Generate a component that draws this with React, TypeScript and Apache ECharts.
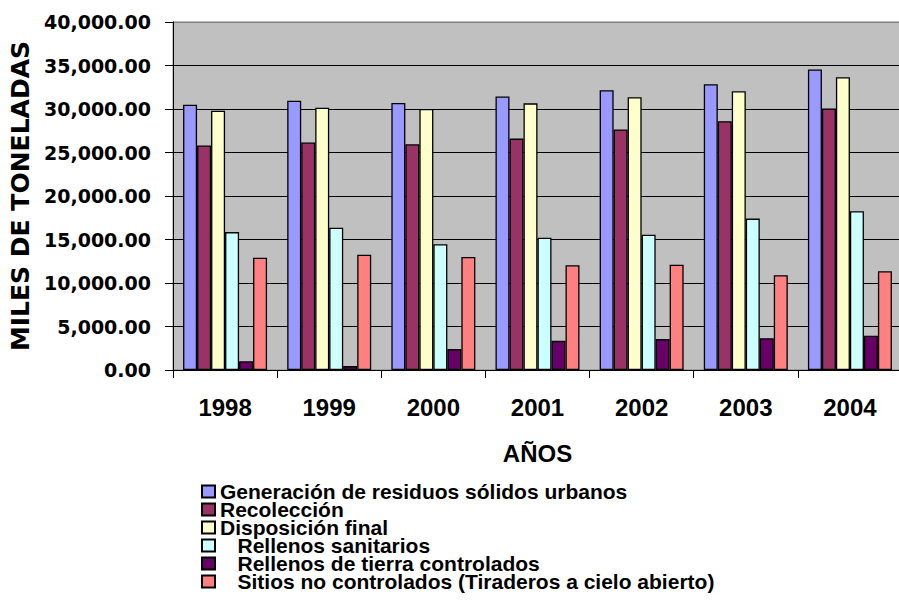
import React, { useEffect, useRef } from "react";
import * as echarts from "echarts";

const years = ["1998", "1999", "2000", "2001", "2002", "2003", "2004"];
const generacion = [30500, 30950, 30700, 31450, 32150, 32850, 34550];
const recoleccion = [25800, 26150, 25950, 26600, 27650, 28600, 30050];
const disposicion = [29800, 30150, 30000, 30650, 31350, 32050, 33650];
const sanitarios = [15850, 16350, 14450, 15200, 15550, 17400, 18250];
const tierra = [1000, 450, 2400, 3350, 3550, 3650, 3950];
const sitios = [12900, 13250, 13000, 12050, 12100, 10900, 11350];

const NB = "\u00a0\u00a0\u00a0";
const seriesNames = [
  "Generación de residuos sólidos urbanos",
  "Recolección",
  "Disposición final",
  NB + "Rellenos sanitarios",
  NB + "Rellenos de tierra controlados",
  NB + "Sitios no controlados (Tiraderos a cielo abierto)",
];
const seriesData = [generacion, recoleccion, disposicion, sanitarios, tierra, sitios];
const colors = ["#9999FF", "#993366", "#FFFFCC", "#CCFFFF", "#660066", "#FF8080"];

const fmt = (v: number) => {
  const s = Math.round(v).toString().replace(/\B(?=(\d{3})+(?!\d))/g, ",");
  return s + ".00";
};

export default function App() {
  const ref = useRef<HTMLDivElement>(null);
  useEffect(() => {
    document.body.style.margin = "0";
    const chart = echarts.init(ref.current!, null, { renderer: "svg" });
    const splitColors = ["#000", "#000", "#000", "#000", "#000", "#000", "#000", "#000", "#808080"];
    chart.setOption({
      animation: false,
      backgroundColor: "#ffffff",
      grid: {
        left: 173,
        top: 22,
        width: 729,
        height: 348,
        show: true,
        backgroundColor: "#C0C0C0",
        borderColor: "#808080",
        borderWidth: 1,
        containLabel: false,
        outerBoundsMode: "none",
      },
      legend: {
        orient: "vertical",
        left: 201,
        top: 481,
        padding: 0,
        itemWidth: 13,
        itemHeight: 12,
        itemGap: -3,
        icon: "rect",
        selectedMode: false,
        textStyle: {
          fontFamily: "Liberation Sans",
          fontWeight: "bold",
          fontSize: 21,
          lineHeight: 18,
          color: "#000",
        },
        data: seriesNames,
      },
      xAxis: {
        type: "category",
        data: years,
        name: "AÑOS",
        nameLocation: "middle",
        nameGap: 71,
        nameTextStyle: {
          fontFamily: "Liberation Sans",
          fontWeight: "bold",
          fontSize: 24,
          color: "#000",
        },
        axisLine: { lineStyle: { color: "#000", width: 1 } },
        axisTick: { show: true, length: 8, lineStyle: { color: "#000" } },
        axisLabel: {
          margin: 25,
          fontFamily: "Liberation Sans",
          fontWeight: "bold",
          fontSize: 24,
          color: "#000",
        },
        splitLine: { show: false },
      },
      yAxis: {
        type: "value",
        min: 0,
        max: 40000,
        interval: 5000,
        name: "MILES DE TONELADAS",
        nameLocation: "middle",
        nameRotate: 90,
        nameGap: 131,
        nameTextStyle: {
          fontFamily: "DejaVu Sans",
          fontWeight: "bold",
          fontSize: 25,
          color: "#000",
        },
        axisLine: { show: true, lineStyle: { color: "#000", width: 1 } },
        axisTick: { show: true, length: 8, lineStyle: { color: "#000" } },
        axisLabel: {
          margin: 22,
          formatter: fmt,
          fontFamily: "DejaVu Sans",
          fontWeight: "bold",
          fontSize: 19,
          color: "#000",
        },
        splitLine: { show: true, lineStyle: { color: splitColors, width: 1 } },
      },
      series: seriesNames.map((name, i) => ({
        name,
        type: "bar",
        data: seriesData[i],
        barWidth: 14,
        barGap: "0%",
        itemStyle: { color: colors[i], borderColor: "#000", borderWidth: 1.3 },
      })),
    });
    return () => chart.dispose();
  }, []);
  return <div ref={ref} style={{ width: 899, height: 607 }} />;
}
